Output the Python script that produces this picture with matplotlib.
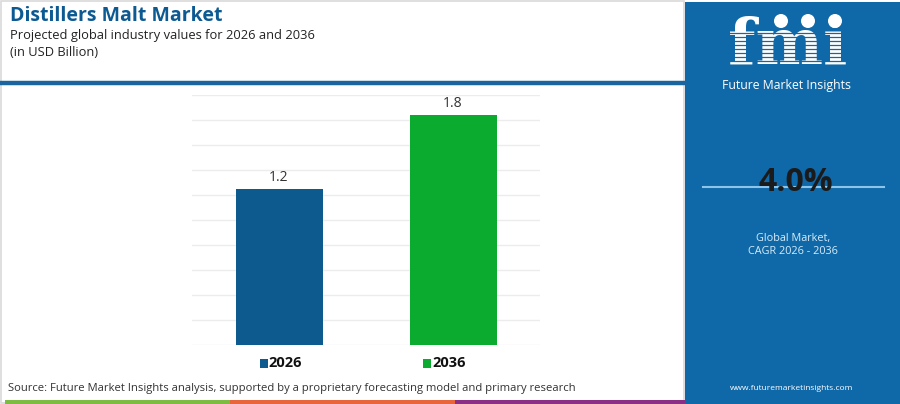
import matplotlib
matplotlib.use("Agg")
import matplotlib.pyplot as plt
from matplotlib.patches import Rectangle, Circle
from matplotlib.lines import Line2D

# ---- data ----
categories = ["2026", "2036"]
values = [1.22, 1.80]
value_labels = ["1.2", "1.8"]
bar_colors = ["#0d5a8f", "#0aab2f"]
title = "Distillers Malt Market"
subtitle1 = "Projected global industry values for 2026 and 2036"
subtitle2 = "(in USD Billion)"
cagr_text = "4.0%"
cagr_caption = ["Global Market,", "CAGR 2026 - 2036"]
source_text = "Source: Future Market Insights analysis, supported by a proprietary forecasting model and primary research"
website = "www.futuremarketinsights.com"

W, H = 900, 404
fig = plt.figure(figsize=(W / 100, H / 100), dpi=100)
FONT = "Open Sans"

def fx(x):
    return x / W

def fy(y):
    return 1 - y / H

PANEL = "#0f69a8"

# left frame (light gray)
fig.add_artist(Rectangle((fx(1), fy(403)), fx(684) - fx(1), fy(1) - fy(403),
                         transform=fig.transFigure, facecolor="white",
                         edgecolor="#d9d9d9", lw=1.2, zorder=0))

# right panel
fig.add_artist(Rectangle((fx(685), 0), 1 - fx(685), fy(2),
                         transform=fig.transFigure, facecolor=PANEL,
                         edgecolor="none", zorder=1))

# title block
fig.text(fx(10), fy(16), title, fontsize=14, fontweight="bold", color="#0d5a92",
         family=FONT, va="center", ha="left")
fig.text(fx(10), fy(35), subtitle1, fontsize=9.3, color="#222222",
         family=FONT, va="center", ha="left")
fig.text(fx(10), fy(53), subtitle2, fontsize=9.3, color="#222222",
         family=FONT, va="center", ha="left")

# separator line under title
fig.add_artist(Line2D([0, fx(685)], [fy(83), fy(83)], transform=fig.transFigure,
                      color="#1a64a0", lw=3.2, zorder=2))

# bottom color strip
strip = [(5, 230, "#7dbb42"), (230, 455, "#e8643a"), (455, 685, "#8b2f86")]
for x0, x1, c in strip:
    fig.add_artist(Rectangle((fx(x0), 0), fx(x1) - fx(x0), 4 / H,
                             transform=fig.transFigure, facecolor=c,
                             edgecolor="none", zorder=2))

# ---- chart ----
ax = fig.add_axes([fx(192), fy(345), fx(540) - fx(192), fy(95) - fy(345)])
x = list(range(len(categories)))
bars = ax.bar(x, values, width=0.5, color=bar_colors, zorder=3)
ymax = 1.96
ax.set_ylim(0, ymax)
ax.set_xlim(-0.5, 1.5)
ax.set_yticks([ymax * i / 10 for i in range(11)])
ax.yaxis.grid(True, color="#ececec", lw=1)
ax.set_axisbelow(True)
for s in ax.spines.values():
    s.set_visible(False)
ax.tick_params(left=False, bottom=False, labelleft=False, labelbottom=False)
for b, lab in zip(bars, value_labels):
    ax.annotate(lab, (b.get_x() + b.get_width() / 2, b.get_height()),
                xytext=(0, 3), textcoords="offset points", ha="center",
                va="bottom", fontsize=10, color="#333333", family=FONT)

# legend
leg_pos = [(260, 268), (423, 432)]
for (sx, tx), c, lab in zip(leg_pos, bar_colors, categories):
    fig.add_artist(Rectangle((fx(sx), fy(368)), 8 / W, 9 / H,
                             transform=fig.transFigure, facecolor=c,
                             edgecolor="none"))
    fig.text(fx(tx), fy(363), lab, fontsize=10.5, fontweight="bold",
             color="#111111", family=FONT, va="center", ha="left")

# source
fig.text(fx(8), fy(389), source_text, fontsize=8.1, color="#333333",
         family=FONT, va="center", ha="left")

# ---- right panel content ----
# logo globes drawn in a pixel-unit overlay axes (top strip of the panel)
lax = fig.add_axes([fx(700), fy(34), fx(880) - fx(700), fy(8) - fy(34)])
lax.set_zorder(10)
lax.set_xlim(700, 880)
lax.set_ylim(34, 8)
lax.axis("off")
lax.patch.set_alpha(0)
for cx in (781, 808, 835):
    lax.add_patch(Circle((cx, 21), 7, facecolor="white", edgecolor="none"))

fig.text(fx(788), fy(63), "fmi", fontsize=46, fontweight="bold", color="white",
         family="DejaVu Serif", va="baseline", ha="center", zorder=3)
for yy in range(33, 66, 4):
    fig.add_artist(Line2D([fx(712), fx(866)], [fy(yy), fy(yy)],
                          transform=fig.transFigure, color=PANEL, lw=0.9, zorder=4))
fig.text(fx(787), fy(85), "Future Market Insights", fontsize=8.8, color="white",
         family=FONT, va="center", ha="center", zorder=5)

# CAGR
fig.add_artist(Line2D([fx(703), fx(884)], [fy(187), fy(187)],
                      transform=fig.transFigure, color="#8cc4ea", lw=1.5, zorder=3))
fig.text(fx(796), fy(183), cagr_text, fontsize=23, fontweight="bold",
         color="#1b1b1b", family=FONT, va="center", ha="center", zorder=4)
fig.text(fx(793), fy(238), cagr_caption[0], fontsize=7.8, color="#d6ebf8",
         family=FONT, va="center", ha="center", zorder=4)
fig.text(fx(793), fy(251), cagr_caption[1], fontsize=7.8, color="#d6ebf8",
         family=FONT, va="center", ha="center", zorder=4)
fig.text(fx(792), fy(389), website, fontsize=6, color="white",
         family=FONT, va="center", ha="center", zorder=4)

fig.savefig("out.png", dpi=100)
